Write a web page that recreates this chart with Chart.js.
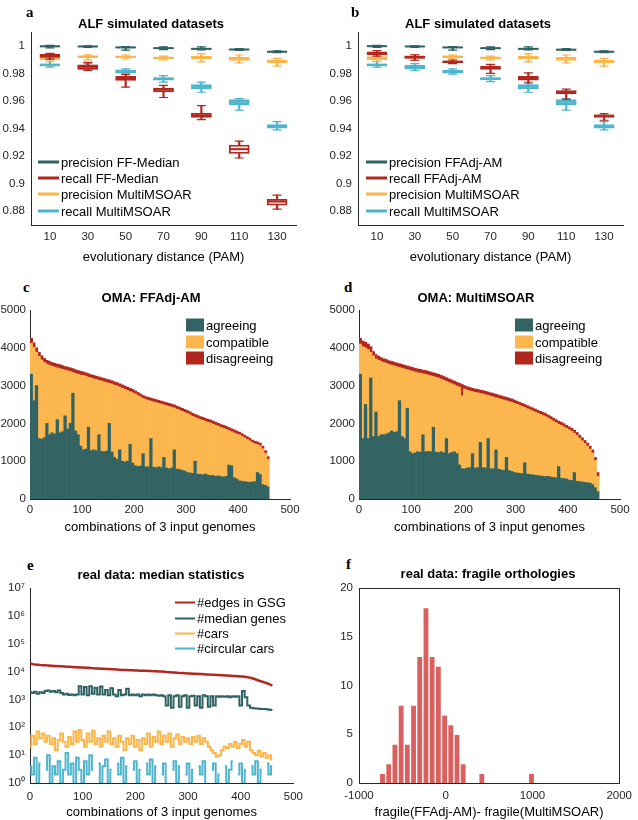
<!DOCTYPE html>
<html>
<head>
<meta charset="utf-8">
<script src="https://cdn.jsdelivr.net/npm/chart.js@4.4.1/dist/chart.umd.min.js"></script>
<style>
  body { margin: 0; background: #fff; }
  #page { position: relative; width: 638px; height: 820px; overflow: hidden; font-family: "Liberation Sans", Arial, sans-serif; color: #000; }
  canvas { position: absolute; }
  .title { position: absolute; white-space: nowrap; font-weight: bold; font-size: 13px; transform: translate(-50%, -50%); }
  .letter { position: absolute; font-family: "Liberation Serif", serif; font-weight: bold; font-size: 15px; transform: translateY(-50%); }
  .leg { position: absolute; white-space: nowrap; font-size: 13px; display: flex; align-items: center; transform: translateY(-50%); }
  .leg i { display: inline-block; margin-right: 2px; }
</style>
</head>
<body>
<div id="page">
  <canvas id="ca" width="310" height="265" style="left:0;top:0"></canvas>
  <canvas id="cb" width="320" height="265" style="left:318px;top:0"></canvas>
  <canvas id="cc" width="305" height="237" style="left:0;top:298px"></canvas>
  <canvas id="cd" width="320" height="237" style="left:318px;top:298px"></canvas>
  <canvas id="ce" width="310" height="245" style="left:0;top:575px"></canvas>
  <canvas id="cf" width="320" height="245" style="left:318px;top:575px"></canvas>

  <div class="letter" style="left:26px;top:12px">a</div>
  <div class="letter" style="left:351px;top:12px">b</div>
  <div class="letter" style="left:23px;top:287px">c</div>
  <div class="letter" style="left:344px;top:287px">d</div>
  <div class="letter" style="left:27px;top:565px">e</div>
  <div class="letter" style="left:346px;top:564px">f</div>

  <div class="title" style="left:151px;top:23px">ALF simulated datasets</div>
  <div class="title" style="left:478px;top:23px">ALF simulated datasets</div>
  <div class="title" style="left:151px;top:297px">OMA: FFAdj-AM</div>
  <div class="title" style="left:476px;top:297px">OMA: MultiMSOAR</div>
  <div class="title" style="left:161px;top:574px">real data: median statistics</div>
  <div class="title" style="left:488px;top:573px">real data: fragile orthologies</div>

  <div class="leg" style="left:38px;top:162px"><i style="width:21px;height:3px;background:#2f6262"></i>precision FF-Median</div>
  <div class="leg" style="left:38px;top:178px"><i style="width:21px;height:3px;background:#b3261e"></i>recall FF-Median</div>
  <div class="leg" style="left:38px;top:194px"><i style="width:21px;height:3px;background:#fbb549"></i>precision MultiMSOAR</div>
  <div class="leg" style="left:38px;top:211px"><i style="width:21px;height:3px;background:#4fb5cd"></i>recall MultiMSOAR</div>

  <div class="leg" style="left:366px;top:162px"><i style="width:21px;height:3px;background:#2f6262"></i>precision FFAdj-AM</div>
  <div class="leg" style="left:366px;top:178px"><i style="width:21px;height:3px;background:#b3261e"></i>recall FFAdj-AM</div>
  <div class="leg" style="left:366px;top:194px"><i style="width:21px;height:3px;background:#fbb549"></i>precision MultiMSOAR</div>
  <div class="leg" style="left:366px;top:211px"><i style="width:21px;height:3px;background:#4fb5cd"></i>recall MultiMSOAR</div>

  <div class="leg" style="left:186px;top:325px"><i style="width:18px;height:13px;background:#336463"></i>agreeing</div>
  <div class="leg" style="left:186px;top:342px"><i style="width:18px;height:13px;background:#fbb64e"></i>compatible</div>
  <div class="leg" style="left:186px;top:358px"><i style="width:18px;height:13px;background:#b3261e"></i>disagreeing</div>

  <div class="leg" style="left:515px;top:325px"><i style="width:18px;height:13px;background:#336463"></i>agreeing</div>
  <div class="leg" style="left:515px;top:342px"><i style="width:18px;height:13px;background:#fbb64e"></i>compatible</div>
  <div class="leg" style="left:515px;top:358px"><i style="width:18px;height:13px;background:#b3261e"></i>disagreeing</div>

  <div class="leg" style="left:175px;top:602px"><i style="width:20px;height:2px;background:#b3261e"></i>#edges in GSG</div>
  <div class="leg" style="left:175px;top:618px"><i style="width:20px;height:2px;background:#2f6262"></i>#median genes</div>
  <div class="leg" style="left:175px;top:633px"><i style="width:20px;height:2px;background:#fbb549"></i>#cars</div>
  <div class="leg" style="left:175px;top:648px"><i style="width:20px;height:2px;background:#4fb5cd"></i>#circular cars</div>
</div>

<script>
'use strict';

// ---- data: panels a / b (boxplots) ----
const pamLabels = ['10', '30', '50', '70', '90', '110', '130'];
const boxTicks = [0.88, 0.9, 0.92, 0.94, 0.96, 0.98, 1];
const boxTickLabels = ['0.88', '0.9', '0.92', '0.94', '0.96', '0.98', '1'];

// each row: [min, q1, median, q3, max]
const aPrecFF = [
  [0.9985, 0.9993, 0.9996, 0.9999, 1.0003], [0.9988, 0.9993, 0.9995, 0.9997, 1.0000],
  [0.9968, 0.9984, 0.9988, 0.9991, 0.9995], [0.9972, 0.9979, 0.9983, 0.9986, 0.9992],
  [0.9970, 0.9974, 0.9978, 0.9981, 0.9992], [0.9966, 0.9970, 0.9973, 0.9976, 0.9980],
  [0.9950, 0.9953, 0.9957, 0.9960, 0.9964]];
const aRecFF = [
  [0.9903, 0.9916, 0.9928, 0.9938, 0.9945], [0.9822, 0.9828, 0.9848, 0.9862, 0.9880],
  [0.9700, 0.9748, 0.9761, 0.9778, 0.9792], [0.9625, 0.9665, 0.9682, 0.9694, 0.9713],
  [0.9465, 0.9480, 0.9496, 0.9512, 0.9566], [0.9186, 0.9219, 0.9250, 0.9280, 0.9308],
  [0.8815, 0.8843, 0.8870, 0.8887, 0.8916]];
const aPrecMM = [
  [0.9885, 0.9900, 0.9911, 0.9922, 0.9932], [0.9898, 0.9913, 0.9921, 0.9928, 0.9934],
  [0.9905, 0.9914, 0.9920, 0.9926, 0.9933], [0.9898, 0.9907, 0.9913, 0.9918, 0.9925],
  [0.9884, 0.9905, 0.9915, 0.9925, 0.9942], [0.9875, 0.9893, 0.9906, 0.9918, 0.9933],
  [0.9852, 0.9878, 0.9887, 0.9897, 0.9908]];
const aRecMM = [
  [0.9845, 0.9852, 0.9862, 0.9870, 0.9888], [0.9822, 0.9830, 0.9843, 0.9860, 0.9870],
  [0.9795, 0.9802, 0.9812, 0.9826, 0.9832], [0.9737, 0.9750, 0.9760, 0.9770, 0.9783],
  [0.9663, 0.9689, 0.9703, 0.9718, 0.9737], [0.9533, 0.9573, 0.9593, 0.9610, 0.9617],
  [0.9390, 0.9402, 0.9417, 0.9429, 0.9450]];

const bPrecFF = [
  [0.9988, 0.9994, 0.9997, 0.9999, 1.0003], [0.9988, 0.9993, 0.9995, 0.9997, 1.0000],
  [0.9968, 0.9984, 0.9988, 0.9991, 0.9995], [0.9972, 0.9979, 0.9983, 0.9986, 0.9992],
  [0.9970, 0.9974, 0.9978, 0.9981, 0.9992], [0.9966, 0.9969, 0.9972, 0.9975, 0.9980],
  [0.9950, 0.9953, 0.9957, 0.9960, 0.9964]];
const bRecFF = [
  [0.9925, 0.9935, 0.9946, 0.9957, 0.9965], [0.9895, 0.9908, 0.9917, 0.9925, 0.9935],
  [0.9870, 0.9878, 0.9884, 0.9890, 0.9897], [0.9800, 0.9828, 0.9840, 0.9852, 0.9865],
  [0.9730, 0.9750, 0.9764, 0.9778, 0.9803], [0.9612, 0.9650, 0.9663, 0.9675, 0.9685],
  [0.9460, 0.9480, 0.9492, 0.9500, 0.9508]];
const bPrecMM = [
  [0.9885, 0.9900, 0.9911, 0.9922, 0.9932], [0.9898, 0.9913, 0.9920, 0.9928, 0.9934],
  [0.9905, 0.9914, 0.9921, 0.9927, 0.9933], [0.9898, 0.9907, 0.9913, 0.9918, 0.9925],
  [0.9884, 0.9905, 0.9915, 0.9925, 0.9942], [0.9875, 0.9893, 0.9905, 0.9917, 0.9933],
  [0.9852, 0.9878, 0.9887, 0.9897, 0.9908]];
const bRecMM = [
  [0.9845, 0.9852, 0.9862, 0.9870, 0.9888], [0.9822, 0.9832, 0.9846, 0.9860, 0.9870],
  [0.9795, 0.9802, 0.9812, 0.9824, 0.9832], [0.9740, 0.9752, 0.9761, 0.9770, 0.9783],
  [0.9663, 0.9689, 0.9703, 0.9718, 0.9737], [0.9533, 0.9573, 0.9593, 0.9610, 0.9617],
  [0.9390, 0.9402, 0.9417, 0.9429, 0.9450]];

// ---- data: panels c / d (stacked counts per combination, binned by 5) ----
const agreeC = [
  3300, 2600, 3000, 1600, 1580, 1620, 2000, 1700, 1750, 1720,
  2100, 1750, 1780, 2200, 1850, 2000, 2800, 1800, 1700, 1400,
  1300, 1320, 1900, 1280, 1300, 1280, 1700, 1260, 1250, 1270,
  2000, 1240, 1100, 1050, 1300, 1000, 980, 1000, 1450, 950,
  880, 860, 870, 1200, 850, 850, 1600, 840, 830, 850,
  830, 1100, 820, 800, 820, 1300, 790, 780, 760, 740,
  700, 690, 680, 1000, 660, 650, 640, 660, 630, 620,
  620, 600, 610, 590, 580, 600, 900, 880, 560, 530,
  480, 470, 460, 450, 440, 450, 460, 700, 650, 380,
  360, 320];
const compatC = [
  820, 1410, 880, 2170, 2100, 1990, 1570, 1840, 1760, 1770,
  1370, 1700, 1650, 1210, 1540, 1370, 550, 1520, 1600, 1880,
  1970, 1930, 1320, 1920, 1880, 1880, 1440, 1860, 1850, 1810,
  1060, 1800, 1910, 1940, 1660, 1930, 1920, 1870, 1390, 1860,
  1900, 1880, 1830, 1460, 1780, 1760, 990, 1730, 1720, 1680,
  1680, 1390, 1650, 1650, 1610, 1110, 1590, 1570, 1560, 1550,
  1560, 1540, 1510, 1160, 1470, 1450, 1440, 1390, 1400, 1390,
  1360, 1350, 1310, 1300, 1290, 1240, 910, 900, 1190, 1190,
  1220, 1190, 1160, 1130, 1100, 1040, 1000, 740, 760, 950,
  850, 730];
const disagreeC = [
  130, 120, 120, 110, 110, 110, 100, 100, 100, 100,
  100, 105, 100, 95, 100, 100, 100, 100, 100, 100,
  90, 90, 95, 90, 90, 90, 90, 90, 90, 90,
  90, 90, 90, 90, 90, 90, 90, 90, 90, 90,
  80, 80, 80, 80, 80, 80, 80, 80, 80, 80,
  80, 80, 80, 80, 80, 80, 80, 80, 80, 80,
  80, 80, 80, 80, 80, 80, 80, 80, 80, 80,
  80, 80, 80, 80, 80, 80, 80, 80, 80, 80,
  70, 70, 70, 70, 70, 70, 70, 70, 70, 70,
  70, 70];

const agreeD = [
  3300, 1600, 2500, 1600, 3200, 1650, 2300, 1650, 1700, 1700,
  1720, 1750, 1800, 1760, 1780, 2600, 1650, 1600, 2400, 1250,
  1200, 1220, 1250, 1240, 1700, 1250, 1260, 1250, 1900, 1240,
  1230, 1250, 1220, 1600, 1200, 1230, 1250, 1200, 900, 800,
  800, 820, 830, 1200, 820, 830, 1500, 830, 820, 1600,
  800, 800, 1300, 790, 770, 760, 1100, 750, 730, 700,
  690, 680, 670, 960, 660, 650, 640, 630, 620, 610,
  600, 590, 600, 580, 570, 560, 860, 550, 540, 530,
  500, 490, 700, 470, 460, 450, 440, 430, 420, 380,
  300, 200];
const compatD = [
  800, 2430, 1500, 2350, 680, 2140, 1410, 2020, 1940, 1910,
  1870, 1810, 1740, 1760, 1720, 880, 1810, 1840, 1020, 2150,
  2180, 2140, 2090, 2090, 1610, 2050, 2020, 2010, 1340, 1980,
  1970, 1920, 1920, 1510, 1880, 1820, 1770, 1790, 2060, 1930,
  2110, 2060, 2030, 1640, 2000, 1980, 1290, 1950, 1940, 1140,
  1920, 1900, 1380, 1870, 1870, 1860, 1500, 1830, 1830, 1830,
  1820, 1800, 1780, 1460, 1730, 1710, 1690, 1670, 1650, 1630,
  1610, 1590, 1540, 1520, 1490, 1460, 1120, 1400, 1370, 1340,
  1330, 1300, 1040, 1210, 1150, 1090, 1030, 970, 900, 840,
  720, 400];
const disagreeD = [
  150, 150, 150, 150, 150, 110, 110, 110, 100, 100,
  100, 100, 100, 100, 100, 100, 100, 100, 100, 100,
  100, 100, 100, 100, 100, 100, 100, 100, 100, 100,
  100, 100, 100, 100, 100, 100, 100, 100, 100, 300,
  90, 90, 90, 90, 90, 90, 90, 90, 90, 90,
  90, 90, 90, 90, 90, 90, 90, 90, 90, 90,
  80, 80, 80, 80, 80, 80, 80, 80, 80, 80,
  80, 80, 80, 80, 80, 80, 80, 80, 80, 80,
  80, 80, 80, 80, 80, 80, 80, 80, 80, 80,
  80, 100];

// ---- data: panel e (log scale, sampled every 5 combinations) ----
const edgesE = [
  20000, 18500, 17800, 17500, 17200, 17000, 16700, 16500, 16300, 16000,
  15800, 15600, 15400, 15200, 15000, 14800, 14600, 14400, 14300, 14100,
  14000, 13800, 13600, 13400, 13200, 13000, 12900, 12700, 12600, 12400,
  12300, 12100, 12000, 11800, 11700, 11500, 11400, 11300, 11200, 11100,
  11000, 10900, 10800, 10700, 10600, 10500, 10400, 10300, 10200, 10100,
  10000, 9800, 9600, 9500, 9300, 9200, 9000, 8900, 8800, 8700,
  8600, 8500, 8400, 8300, 8200, 8100, 8000, 7900, 7800, 7750,
  7700, 7600, 7500, 7400, 7300, 7200, 7100, 7000, 6900, 6800,
  6700, 6600, 6400, 6200, 5900, 5500, 5100, 4700, 4400, 4100,
  3800, 3500, 3100];
const genesE = [
  1800, 1700, 1900, 1600, 1800, 1700, 2000, 2100, 1900, 2000,
  1800, 2100, 1700, 1500, 1600, 1450, 1500, 1400, 1500, 3000,
  1500, 2800, 1400, 3000, 1600, 2600, 1500, 2900, 1500, 2200,
  1400, 2500, 1500, 1300, 2200, 1400, 1500, 2400, 1400, 1500,
  1400, 1500, 1300, 1500, 1400, 1500, 1400, 1500, 1400, 1350,
  1400, 1300, 600, 1400, 500, 1300, 1400, 550, 1300, 1400,
  500, 1300, 1350, 600, 1300, 500, 1400, 1300, 550, 1300,
  600, 1300, 1250, 1300, 1250, 1300, 1200, 1300, 1250, 1300,
  600, 2000, 1200, 600, 500, 480, 470, 460, 450, 450,
  440, 430, 420];
const carsE = [
  20, 50, 25, 70, 40, 60, 30, 50, 25, 40,
  15, 35, 60, 30, 20, 45, 25, 70, 30, 80,
  35, 20, 60, 30, 75, 25, 40, 20, 50, 30,
  70, 25, 40, 20, 50, 30, 15, 40, 25, 50,
  20, 35, 15, 40, 25, 60, 20, 45, 30, 70,
  25, 50, 30, 60, 20, 40, 55, 25, 45, 30,
  40, 25, 45, 30, 50, 25, 40, 30, 20, 15,
  12, 9, 10, 15, 20, 18, 25, 20, 30, 18,
  25, 35, 20, 30, 15, 12, 10, 14, 9, 12,
  8, 10, 7];
const circE = [
  4, 2, 8, 1, 5, null, 3, 10, 1, 4,
  2, 6, 1, 3, 12, 2, 5, 1, 8, 3,
  1, 6, 2, 10, 3, null, 5, 1, 4, 7,
  1, 3, null, 5, 2, 8, 1, 4, null, 3,
  6, 1, 3, null, 5, 2, 7, 1, 4, null,
  2, 5, 1, null, 3, 6, 1, 4, null, 2,
  5, 1, 3, null, 4, 2, 6, 1, null, 3,
  5, 1, 2, null, 4, 1, 3, 6, null, 2,
  5, 1, 3, null, 4, 2, 6, 1, 3, null,
  5, 2, 4];
const logTicks = [1, 10, 100, 1e3, 1e4, 1e5, 1e6, 1e7];
const logTickLabels = ['10\u2070', '10\u00b9', '10\u00b2', '10\u00b3', '10\u2074', '10\u2075', '10\u2076', '10\u2077'];

// ---- data: panel f (histogram) ----
const fragBins = [-729, -657, -586, -514, -443, -371, -300, -228, -157, -85, -13, 58, 130,
  201, 273, 345, 416, 488, 560, 631, 703, 775, 846, 918, 989];
const fragCounts = [1, 2, 4, 8, 4, 8, 13, 18, 13, 12, 7, 6, 5, 2, 0, 0, 1, 0, 0, 0, 0, 0, 0, 0, 1];

// combination index of each 5-wide bin (x positions of c, d, e)
let combCD = [];
for (let i = 0; i < agreeC.length; i++) combCD.push(2.5 + 5 * i);
let combE = [];
for (let i = 0; i < edgesE.length; i++) combE.push(5 * i);

// colours
const teal = '#2f6262';
const red = '#b3261e';
const orange = '#fbb549';
const blue = '#4fb5cd';
const axisCol = '#262626';

Chart.defaults.font.family = '"Liberation Sans", Arial, sans-serif';
Chart.defaults.font.size = 11.5;
Chart.defaults.color = axisCol;

function toXY(xs, ys) {
  return ys.map((y, i) => ({ x: xs[i], y: y }));
}

function baseOptions(pad) {
  return {
    responsive: false,
    animation: false,
    events: [],
    layout: { padding: pad },
    plugins: { legend: { display: false }, tooltip: { enabled: false }, title: { display: false } },
  };
}

function axisStyle(extra) {
  return Object.assign({
    grid: { display: false, drawTicks: false },
    border: { display: true, color: axisCol, width: 1 },
  }, extra);
}

function xTitle(text) {
  return { display: true, text: text, color: '#000', font: { size: 13 }, padding: 0 };
}

// one boxplot series = whiskers + box + median + caps
function boxSets(rows, color) {
  return [
    { type: 'bar', data: rows.map(r => [r[0], r[1]]), backgroundColor: color, barThickness: 1.5, grouped: false },
    { type: 'bar', data: rows.map(r => [r[3], r[4]]), backgroundColor: color, barThickness: 1.5, grouped: false },
    { type: 'bar', data: rows.map(r => [r[1], r[3]]), backgroundColor: 'rgba(255,255,255,0)', borderColor: color,
      borderWidth: 1.2, borderSkipped: false, barThickness: 20, grouped: false },
    { type: 'line', data: rows.map(r => r[2]), showLine: false, pointStyle: 'line', pointRadius: 10,
      pointBorderWidth: 2, pointBorderColor: color, borderColor: color },
    { type: 'line', data: rows.map(r => r[0]), showLine: false, pointStyle: 'line', pointRadius: 4.5,
      pointBorderWidth: 1.2, pointBorderColor: color, borderColor: color },
    { type: 'line', data: rows.map(r => r[4]), showLine: false, pointStyle: 'line', pointRadius: 4.5,
      pointBorderWidth: 1.2, pointBorderColor: color, borderColor: color },
  ];
}

function boxChart(id, series, padRight, yWidth) {
  let sets = [];
  sets = sets.concat(boxSets(series[0], teal), boxSets(series[1], red), boxSets(series[2], orange), boxSets(series[3], blue));
  let opts = baseOptions({ top: 32, right: padRight, left: 0, bottom: 0 });
  opts.scales = {
    x: axisStyle({
      offset: true,
      ticks: { padding: 5, maxRotation: 0 },
      title: xTitle('evolutionary distance (PAM)'),
      afterFit: s => { s.height = 40; },
    }),
    y: axisStyle({
      min: 0.87, max: 1.01,
      afterBuildTicks: s => { s.ticks = boxTicks.map(v => ({ value: v })); },
      ticks: { padding: 6, callback: (v, i) => boxTickLabels[i] },
      afterFit: s => { s.width = yWidth; },
    }),
  };
  new Chart(document.getElementById(id), { type: 'bar', data: { labels: pamLabels, datasets: sets }, options: opts });
}

boxChart('ca', [aPrecFF, aRecFF, aPrecMM, aRecMM], 14, 31);
boxChart('cb', [bPrecFF, bRecFF, bPrecMM, bRecMM], 15, 40);

function omaChart(id, agree, compat, disagree, padRight, yWidth) {
  let opts = baseOptions({ top: 12, right: padRight, left: 0, bottom: 0 });
  opts.datasets = { bar: { barPercentage: 1, categoryPercentage: 1, borderWidth: 0 } };
  opts.scales = {
    x: axisStyle({
      type: 'linear', min: 0, max: 500, offset: false, stacked: true,
      ticks: { stepSize: 100, padding: 4, maxRotation: 0, callback: v => String(v) },
      title: xTitle('combinations of 3 input genomes'),
      afterFit: s => { s.height = 36; },
    }),
    y: axisStyle({
      min: 0, max: 5000, stacked: true,
      ticks: { stepSize: 1000, padding: 4, callback: v => String(v) },
      afterFit: s => { s.width = yWidth; },
    }),
  };
  new Chart(document.getElementById(id), {
    type: 'bar',
    data: {
      datasets: [
        { label: 'agreeing', data: toXY(combCD, agree), backgroundColor: '#336463' },
        { label: 'compatible', data: toXY(combCD, compat), backgroundColor: '#fbb64e' },
        { label: 'disagreeing', data: toXY(combCD, disagree), backgroundColor: red },
      ],
    },
    options: opts,
  });
}

omaChart('cc', agreeC, compatC, disagreeC, 15, 30);
omaChart('cd', agreeD, compatD, disagreeD, 18, 41);

// panel e
let optsE = baseOptions({ top: 13, right: 11, left: 0, bottom: 0 });
optsE.scales = {
  x: axisStyle({
    type: 'linear', min: 0, max: 500,
    ticks: { stepSize: 100, padding: 7, maxRotation: 0, callback: v => String(v) },
    title: xTitle('combinations of 3 input genomes'),
    afterFit: s => { s.height = 37; },
  }),
  y: axisStyle({
    type: 'logarithmic', min: 1, max: 1e7,
    afterBuildTicks: s => { s.ticks = logTicks.map(v => ({ value: v })); },
    ticks: { padding: 5, callback: (v, i) => logTickLabels[i] },
    afterFit: s => { s.width = 30; },
  }),
};
new Chart(document.getElementById('ce'), {
  type: 'line',
  data: {
    datasets: [
      { label: '#edges in GSG', data: toXY(combE, edgesE), borderColor: red, borderWidth: 2.5 },
      { label: '#median genes', data: toXY(combE, genesE), borderColor: teal, borderWidth: 2, stepped: 'middle' },
      { label: '#cars', data: toXY(combE, carsE), borderColor: orange, borderWidth: 2, stepped: 'middle' },
      { label: '#circular cars', data: toXY(combE, circE), borderColor: blue, borderWidth: 2, stepped: 'middle' },
    ],
  },
  options: Object.assign(optsE, { elements: { point: { radius: 0 }, line: { tension: 0 } }, spanGaps: false }),
});

// panel f
let optsF = baseOptions({ top: 13, right: 8, left: 0, bottom: 0 });
optsF.scales = {
  x: axisStyle({
    type: 'linear', min: -1000, max: 2000, offset: false,
    ticks: { stepSize: 1000, padding: 6, maxRotation: 0, callback: v => String(v) },
    title: xTitle('fragile(FFAdj-AM)- fragile(MultiMSOAR)'),
    afterFit: s => { s.height = 37; },
  }),
  y: axisStyle({
    min: 0, max: 20,
    ticks: { stepSize: 5, padding: 6 },
    afterFit: s => { s.width = 41; },
  }),
  x2: axisStyle({
    type: 'linear', position: 'top', min: -1000, max: 2000,
    ticks: { display: false },
    afterFit: s => { s.height = 0; },
  }),
  y2: axisStyle({
    type: 'linear', position: 'right', min: 0, max: 20,
    ticks: { display: false },
    afterFit: s => { s.width = 0; },
  }),
};
new Chart(document.getElementById('cf'), {
  type: 'bar',
  data: {
    datasets: [{
      data: toXY(fragBins, fragCounts),
      backgroundColor: '#d9605f', borderColor: '#ffffff', borderWidth: 1,
      barPercentage: 1, categoryPercentage: 1,
    }],
  },
  options: optsF,
});
</script>
</body>
</html>
